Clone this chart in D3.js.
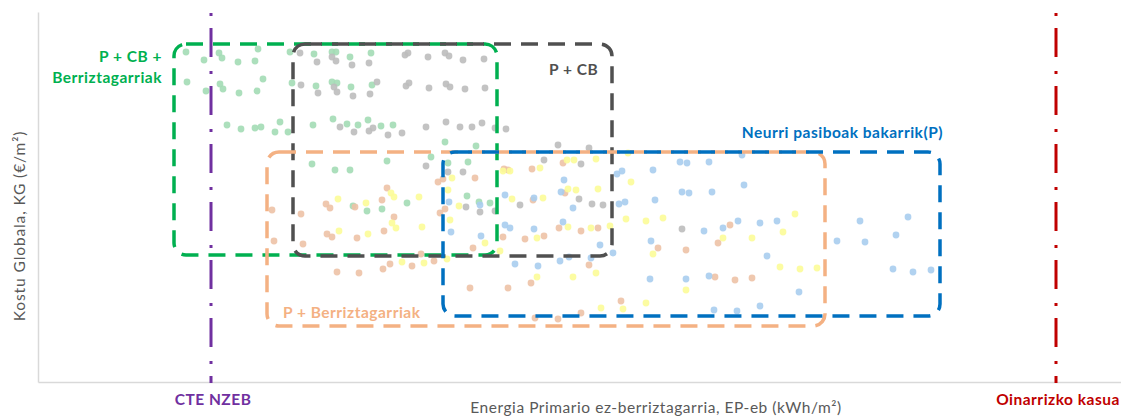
<!DOCTYPE html>
<html>
<head>
<meta charset="utf-8">
<script src="https://cdn.jsdelivr.net/npm/d3@7"></script>
<style>
  html, body { margin: 0; padding: 0; background: #fff; }
  svg { display: block; }
  text { font-family: Lato, "Open Sans", sans-serif; }
</style>
</head>
<body>
<svg id="chart" width="1121" height="419"></svg>
<script>
// ---- data (EP-eb index on x, KG index on y) ----
const greenPts = [
  [148,330],[166,322],[181,329],[184,324],[200,320],[217,321],[220,333],[252,330],[276,328],[294,330],[298,330],[312,325],[333,329],
  [149,300],[168,291],[182,298],[185,293],[201,289],[219,291],[225,303],[254,299],[278,296],[294,300],[299,299],[313,295],[334,297],
  [189,257],[203,253],[217,254],[223,255],[237,250],[242,260],[250,250],[275,257],[295,263],[309,258],[320,257],[330,262],[343,256],[355,257],
  [407,240],[438,236],[274,218],[297,212],[312,212],[349,221],[393,225],[410,219],[430,220],
  [315,176],[329,171],[344,173],[369,179],[429,186],[441,180],[452,179]
];
const grayPts = [
  [262,329],[279,320],[294,325],[298,321],[314,317],[331,319],[367,327],[370,329],[390,325],[407,329],[411,326],[425,322],[446,323],
  [263,297],[280,289],[296,295],[299,290],[315,286],[332,288],[339,300],[368,296],[371,299],[391,294],[408,298],[412,295],[427,293],[447,294],
  [302,255],[316,250],[331,251],[335,254],[350,247],[364,249],[388,255],[408,260],[422,255],[434,255],[444,259],[457,254],[468,253],
  [520,237],[551,234],[506,222],[543,218],[388,216],[410,210],[425,210],[541,183],[482,177],[554,178],[565,177],
  [428,175],[442,170],[457,171],[644,153]
];
const orangePts = [
  [234,172],[263,168],[288,178],[292,174],[317,175],[349,194],[344,182],[356,165],[289,148],[294,145],[319,144],[346,151],
  [236,141],[265,138],[400,200],[405,203],[437,204],[402,169],[407,173],[299,110],[321,109],[345,113],[352,118],[374,116],
  [396,121],[383,128],[466,213],[470,212],[494,213],[525,219],[495,182],[527,189],[465,145],[487,143],[506,146],[521,154],
  [560,154],[543,151],[435,134],[432,94],[470,94],[493,99],[551,117],[583,81],[543,69],[497,64],[520,63],[620,134],
  [648,132],[680,139],[692,157],[677,105],[697,102],[714,104]
];
const yellowPts = [
  [300,183],[328,179],[353,189],[356,185],[381,185],[301,151],[330,148],[354,159],[358,154],[384,155],[364,120],[386,119],
  [409,123],[414,204],[410,192],[421,176],[412,162],[465,211],[472,211],[502,214],[529,222],[536,222],[558,223],[505,184],
  [474,183],[530,193],[538,192],[560,193],[530,155],[553,154],[572,156],[588,163],[499,144],[447,139],[462,131],[590,229],
  [593,200],[499,105],[535,105],[558,109],[563,74],[585,73],[608,79],[625,164],[608,161],[615,128],[648,92],[685,144],
  [714,144],[757,168],[745,150],[742,115],[762,113],[779,114]
];
const bluePts = [
  [411,180],[413,150],[442,177],[443,146],[467,187],[467,157],[472,154],[496,184],[496,153],[526,202],[523,190],[535,174],
  [525,160],[579,208],[584,211],[581,178],[587,180],[562,137],[575,129],[615,212],[642,220],[649,219],[671,220],[704,227],
  [706,197],[644,190],[651,189],[674,190],[617,182],[477,118],[500,116],[522,121],[531,125],[553,124],[613,141],[612,103],
  [648,103],[666,151],[685,154],[700,161],[671,106],[676,72],[699,71],[722,76],[722,159],[739,161],[729,126],[761,90],
  [799,141],[822,161],[827,140],[858,147],[870,165],[855,113],[875,110],[893,112]
];
// group envelopes [x0, x1, y0, y1] in data units
const groupNames = ["P + CB + Berriztagarriak", "P + CB", "P + Berriztagarriak", "Neurri pasiboak bakarrik(P)"];
const groupExtents = [[136,459,127,338],[255,574,126,338],[229,787,56,230],[405,902,66,230]];
// reference lines (x values)
const refNames = ["CTE NZEB", "Oinarrizko kasua"];
const refValues = [173, 1018];

const xTitle = "Energia Primario ez-berriztagarria, EP-eb (kWh/m²)";
const yTitle = "Kostu Globala, KG (€/m²)";

// ---- drawing ----
const svg = d3.select("#chart");
const x = d3.scaleLinear().domain([0, 1083]).range([38, 1121]);
const y = d3.scaleLinear().domain([0, 370]).range([382, 12]);

const axisColor = "#d9d9d9";
const gx = svg.append("g").attr("transform", "translate(0,382)")
  .call(d3.axisBottom(x).tickValues([]).tickSize(0).tickSizeOuter(0));
const gy = svg.append("g").attr("transform", "translate(38,0)")
  .call(d3.axisLeft(y).tickValues([]).tickSize(0).tickSizeOuter(0));
[gx, gy].forEach(g => g.select(".domain").attr("stroke", axisColor).attr("stroke-width", 1.5));

svg.append("text").attr("x", 656).attr("y", 413).attr("text-anchor", "middle")
  .attr("fill", "#595959").attr("font-size", 15.5).attr("letter-spacing", 0.55).text(xTitle);
svg.append("text").attr("transform", "translate(25,226) rotate(-90)").attr("text-anchor", "middle")
  .attr("fill", "#595959").attr("font-size", 15.5).attr("letter-spacing", 0.9).text(yTitle);

const series = [
  {pts: greenPts, color: "#a3dcb5"},
  {pts: grayPts, color: "#bdbdbd"},
  {pts: orangePts, color: "#edc2a6"},
  {pts: yellowPts, color: "#fcfc98"},
  {pts: bluePts, color: "#a8cdee"}
];
series.forEach(s => {
  svg.append("g").selectAll("circle").data(s.pts).join("circle")
    .attr("cx", d => x(d[0])).attr("cy", d => y(d[1])).attr("r", 3.4)
    .attr("fill", s.color).attr("fill-opacity", 0.9);
});

const groupColors = ["#00b050", "#505050", "#f4b183", "#0070c0"];
groupExtents.forEach((e, i) => {
  svg.append("rect")
    .attr("x", x(e[0])).attr("y", y(e[3]))
    .attr("width", x(e[1]) - x(e[0])).attr("height", y(e[2]) - y(e[3]))
    .attr("rx", 12).attr("ry", 12)
    .attr("fill", "none").attr("stroke", groupColors[i]).attr("stroke-width", 3.5)
    .attr("stroke-dasharray", "17,10");
});

const refColors = ["#7030a0", "#c00000"];
refValues.forEach((v, i) => {
  svg.append("line").attr("x1", x(v)).attr("x2", x(v)).attr("y1", y(369)).attr("y2", y(-1))
    .attr("stroke", refColors[i]).attr("stroke-width", 3)
    .attr("stroke-dasharray", "3,12,29,14");
  svg.append("text").attr("x", x(v) + 2).attr("y", 405).attr("text-anchor", "middle")
    .attr("fill", refColors[i]).attr("font-weight", "bold").attr("font-size", 15.5)
    .attr("letter-spacing", 0.5).text(refNames[i]);
});

// group labels
const lbl = (txt, xx, yy, color, anchor) => svg.append("text").attr("x", xx).attr("y", yy)
  .attr("text-anchor", anchor).attr("fill", color).attr("font-weight", "bold").attr("font-size", 15.5)
  .attr("letter-spacing", 0.5).text(txt);
lbl("P + CB +", 162, 62, groupColors[0], "end");
lbl("Berriztagarriak", 162, 83, groupColors[0], "end");
lbl(groupNames[1], 549, 75, groupColors[1], "start");
lbl(groupNames[2], 283, 318, groupColors[2], "start");
lbl(groupNames[3], 943, 138, groupColors[3], "end");
</script>
</body>
</html>
